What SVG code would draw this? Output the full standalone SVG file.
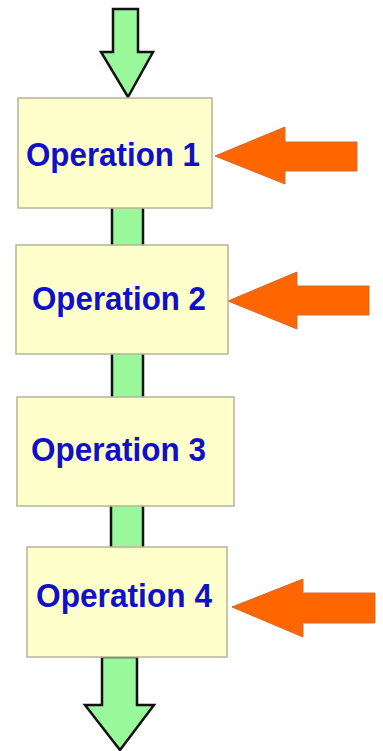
<svg xmlns="http://www.w3.org/2000/svg" width="383" height="751" viewBox="0 0 383 751">
  <style>
    .flow { fill: #99f899; stroke: #111; stroke-width: 2.5; stroke-linejoin: miter; }
    .box { fill: #ffffcc; stroke: #b8b39a; stroke-width: 1.5; }
    .label { font-family: "Liberation Sans", Arial, sans-serif; font-weight: bold; font-size: 33px; fill: #1010c8; }
    .input { fill: #ff6600; stroke: #d06a30; stroke-width: 1; }
  </style>
  <rect width="383" height="751" fill="#ffffff"/>

  <g id="connectors">
    <!-- incoming flow arrow -->
    <path class="flow" d="M113,9 L138,9 L138,52 L153,52 L128,97 L101,52 L113,52 Z"/>
    <!-- links between operations -->
    <rect class="flow" x="112" y="200" width="31" height="52"/>
    <rect class="flow" x="112" y="348" width="31" height="55"/>
    <rect class="flow" x="111" y="500" width="32" height="53"/>
    <!-- outgoing flow arrow -->
    <path class="flow" d="M102,657 L137,657 L137,705 L154,705 L120,750 L85,705 L102,705 Z"/>
    <!-- side inputs -->
    <path class="input" d="M357,142 L357,171 L285,171 L285,184 L215,156 L285,127 L285,142 Z"/>
    <path class="input" d="M369,286 L369,315 L297,315 L297,329 L228,301 L297,272 L297,286 Z"/>
    <path class="input" d="M375,593 L375,623 L303,623 L303,637 L232,607 L303,579 L303,593 Z"/>
  </g>

  <g id="op1">
    <rect class="box" x="18" y="98" width="194" height="110"/>
    <text class="label" x="26" y="166" textLength="174" lengthAdjust="spacingAndGlyphs">Operation 1</text>
  </g>
  <g id="op2">
    <rect class="box" x="16" y="245" width="212" height="109"/>
    <text class="label" x="32" y="310" textLength="174" lengthAdjust="spacingAndGlyphs">Operation 2</text>
  </g>
  <g id="op3">
    <rect class="box" x="17" y="397" width="217" height="109"/>
    <text class="label" x="31" y="461" textLength="175" lengthAdjust="spacingAndGlyphs">Operation 3</text>
  </g>
  <g id="op4">
    <rect class="box" x="27" y="547" width="200" height="110"/>
    <text class="label" x="36" y="607" textLength="176" lengthAdjust="spacingAndGlyphs">Operation 4</text>
  </g>
</svg>
